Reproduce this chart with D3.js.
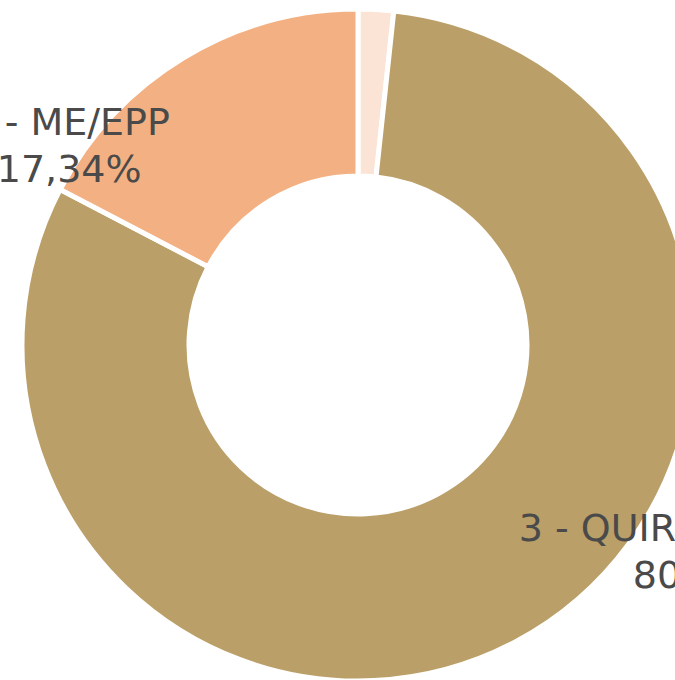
<!DOCTYPE html>
<html>
<head>
<meta charset="utf-8">
<script src="https://cdn.jsdelivr.net/npm/d3@7"></script>
<style>
  body { margin: 0; background: #fff; }
  svg { display: block; }
</style>
</head>
<body>
<svg id="chart"></svg>
<script>
// data, in drawing order (clockwise from 12 o'clock)
const categories = ['1 - OUTROS', '3 - QUIROPRÁTICOS', '2 - ME/EPP'];
const values = [1.70, 80.96, 17.34];
const colors = ['#FBE4D6', '#BB9F68', '#F3B183'];

// where each label sits: fraction along its slice and distance from centre
const labelFrac = [0.75, 0.389, 0.135];
const labelRadius = [398, 399, 357];

const width = 675, height = 680;
const cx = 358, cy = 345;
const outer = 336, inner = 169;

const svg = d3.select('#chart')
    .attr('width', width)
    .attr('height', height);

const g = svg.append('g')
    .attr('transform', `translate(${cx},${cy})`);

const pie = d3.pie().sort(null).value(d => d.value);
const arcs = pie(categories.map((c, i) => ({ name: c, value: values[i], color: colors[i] })));

const arc = d3.arc()
    .innerRadius(inner)
    .outerRadius(outer);

g.selectAll('path')
    .data(arcs)
    .join('path')
    .attr('d', arc)
    .attr('fill', d => d.data.color)
    .attr('stroke', '#fff')
    .attr('stroke-width', 5)
    .attr('stroke-linejoin', 'round');

const pct = d3.formatLocale({ decimal: ',', thousands: '.', grouping: [3], currency: ['', ''] }).format('.2f');

const labels = g.selectAll('g.label')
    .data(arcs)
    .join('g')
    .attr('class', 'label')
    .attr('transform', (d, i) => {
        const a = d.startAngle + labelFrac[i] * (d.endAngle - d.startAngle);
        const [x, y] = d3.pointRadial(a, labelRadius[i]);
        return `translate(${x},${y})`;
    });

labels.append('text')
    .attr('text-anchor', 'middle')
    .style('font-family', '"DejaVu Sans", sans-serif')
    .style('font-size', '38px')
    .attr('fill', '#4a4a4a')
    .text(d => d.data.name);

labels.append('text')
    .attr('text-anchor', 'middle')
    .attr('y', 47)
    .style('font-family', '"DejaVu Sans", sans-serif')
    .style('font-size', '38px')
    .attr('fill', '#4a4a4a')
    .text(d => pct(d.data.value) + '%');
</script>
</body>
</html>
